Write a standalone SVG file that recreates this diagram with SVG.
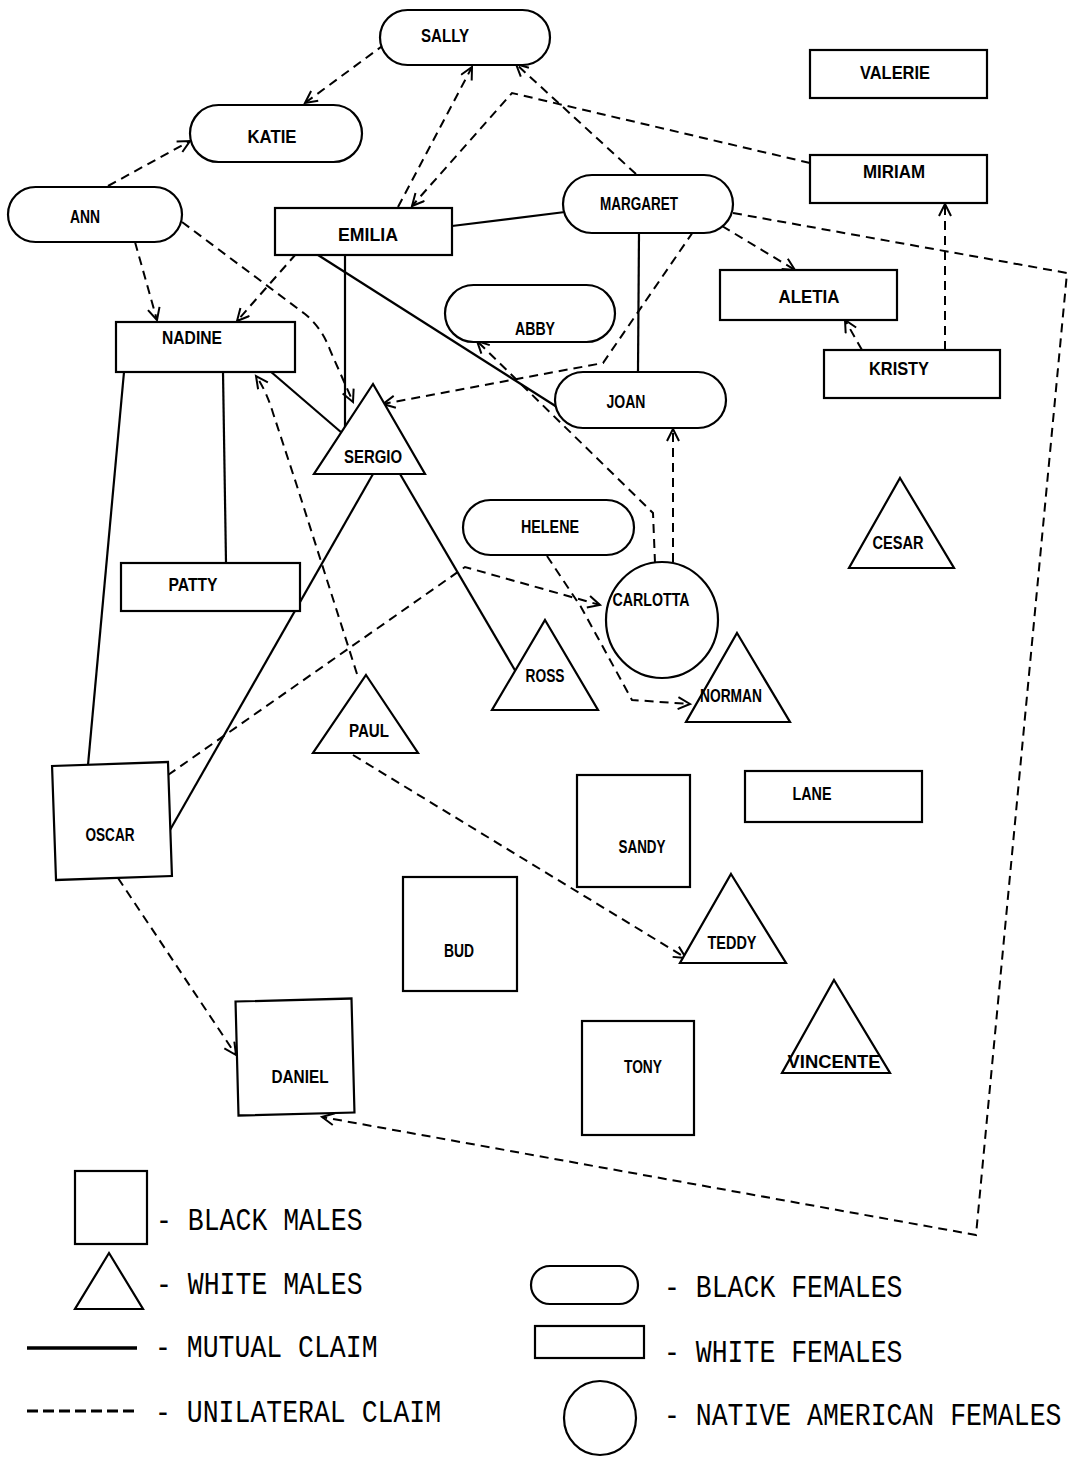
<svg xmlns="http://www.w3.org/2000/svg" width="1070" height="1457" viewBox="0 0 1070 1457">
<style>
.shape{fill:#fff;stroke:#000;stroke-width:2.2}
.lbl{font-family:"Liberation Sans",Arial,sans-serif;font-size:18px;font-weight:bold;text-anchor:middle;dominant-baseline:central;fill:#000}
.solid{fill:none;stroke:#000;stroke-width:2.2}
.dash{fill:none;stroke:#000;stroke-width:2;stroke-dasharray:9,6}
.leg{font-family:"Liberation Mono","Courier New",monospace;font-size:26.5px;fill:#000}
</style>
<defs>
<marker id="arr" markerUnits="userSpaceOnUse" markerWidth="16" markerHeight="16" refX="13" refY="7" orient="auto">
<path d="M1,1 L13,7 L1,13" fill="none" stroke="#000" stroke-width="2"/>
</marker>
</defs>
<rect width="1070" height="1457" fill="#fff"/>
<g id="connectors">
<path class="dash" d="M385,44 L305,103" marker-end="url(#arr)"/>
<path class="dash" d="M108,186 L190,141" marker-end="url(#arr)"/>
<path class="dash" d="M398,207 L472,67" marker-end="url(#arr)"/>
<path class="dash" d="M810,163 L512,93 L412,206" marker-end="url(#arr)"/>
<path class="dash" d="M636,174 L516,64" marker-end="url(#arr)"/>
<path class="dash" d="M296,254 L237,321" marker-end="url(#arr)"/>
<path class="dash" d="M135,242 L157,320" marker-end="url(#arr)"/>
<path class="dash" d="M182,222 L305,314 Q322,328 330,350 L353,402" marker-end="url(#arr)"/>
<path class="dash" d="M693,232 L603,363 L383,404" marker-end="url(#arr)"/>
<path class="dash" d="M722,226 L795,270" marker-end="url(#arr)"/>
<path class="dash" d="M733,213 L1067,273 L976,1235 L322,1117" marker-end="url(#arr)"/>
<path class="dash" d="M862,350 L845,320" marker-end="url(#arr)"/>
<path class="dash" d="M945,350 L945,204" marker-end="url(#arr)"/>
<path class="dash" d="M673,562 L673,429" marker-end="url(#arr)"/>
<path class="dash" d="M655,563 L653,513 L477,341" marker-end="url(#arr)"/>
<path class="dash" d="M547,556 L581,607 L632,700 L690,704" marker-end="url(#arr)"/>
<path class="dash" d="M357,674 L296,483 L273,413 Q266,390 256,376" marker-end="url(#arr)"/>
<path class="dash" d="M168,775 L465,567 L600,605" marker-end="url(#arr)"/>
<path class="dash" d="M353,755 L686,958" marker-end="url(#arr)"/>
<path class="dash" d="M118,878 L236,1055" marker-end="url(#arr)"/>
<path class="solid" d="M452,226 L565,212"/>
<path class="solid" d="M345,255 L345,432"/>
<path class="solid" d="M318,255 L557,407"/>
<path class="solid" d="M270,371 L342,433"/>
<path class="solid" d="M124,372 L88,765"/>
<path class="solid" d="M223,372 L226,563"/>
<path class="solid" d="M639,233 L638,372"/>
<path class="solid" d="M400,474 L516,672"/>
<path class="solid" d="M373,474 L170,830"/>
</g>
<g id="sally"><rect class="shape" x="380" y="10" width="170" height="55" rx="27.5"/><text class="lbl" x="445" y="36" textLength="48" lengthAdjust="spacingAndGlyphs">SALLY</text></g>
<g id="katie"><rect class="shape" x="190" y="105" width="172" height="57" rx="28.5"/><text class="lbl" x="272" y="137" textLength="49" lengthAdjust="spacingAndGlyphs">KATIE</text></g>
<g id="ann"><rect class="shape" x="8" y="187" width="174" height="55" rx="27.5"/><text class="lbl" x="85" y="217" textLength="30" lengthAdjust="spacingAndGlyphs">ANN</text></g>
<g id="emilia"><rect class="shape" x="275" y="208" width="177" height="47"/><text class="lbl" x="368" y="235" textLength="60" lengthAdjust="spacingAndGlyphs">EMILIA</text></g>
<g id="margaret"><rect class="shape" x="563" y="175" width="170" height="58" rx="29"/><text class="lbl" x="639" y="204" textLength="78" lengthAdjust="spacingAndGlyphs">MARGARET</text></g>
<g id="valerie"><rect class="shape" x="810" y="50" width="177" height="48"/><text class="lbl" x="895" y="73" textLength="70" lengthAdjust="spacingAndGlyphs">VALERIE</text></g>
<g id="miriam"><rect class="shape" x="810" y="155" width="177" height="48"/><text class="lbl" x="894" y="172" textLength="62" lengthAdjust="spacingAndGlyphs">MIRIAM</text></g>
<g id="nadine"><rect class="shape" x="116" y="322" width="179" height="50"/><text class="lbl" x="192" y="338" textLength="60" lengthAdjust="spacingAndGlyphs">NADINE</text></g>
<g id="abby"><rect class="shape" x="445" y="285" width="170" height="57" rx="28.5"/><text class="lbl" x="535" y="329" textLength="40" lengthAdjust="spacingAndGlyphs">ABBY</text></g>
<g id="aletia"><rect class="shape" x="720" y="270" width="177" height="50"/><text class="lbl" x="809" y="297" textLength="61" lengthAdjust="spacingAndGlyphs">ALETIA</text></g>
<g id="kristy"><rect class="shape" x="824" y="350" width="176" height="48"/><text class="lbl" x="899" y="369" textLength="60" lengthAdjust="spacingAndGlyphs">KRISTY</text></g>
<g id="joan"><rect class="shape" x="555" y="372" width="171" height="56" rx="28"/><text class="lbl" x="626" y="402" textLength="39" lengthAdjust="spacingAndGlyphs">JOAN</text></g>
<g id="sergio"><polygon class="shape" points="373,384 425,474 314,474"/><text class="lbl" x="373" y="457" textLength="58" lengthAdjust="spacingAndGlyphs">SERGIO</text></g>
<g id="helene"><rect class="shape" x="463" y="500" width="171" height="55" rx="27.5"/><text class="lbl" x="550" y="527" textLength="58" lengthAdjust="spacingAndGlyphs">HELENE</text></g>
<g id="cesar"><polygon class="shape" points="900,478 954,568 849,568"/><text class="lbl" x="898" y="543" textLength="51" lengthAdjust="spacingAndGlyphs">CESAR</text></g>
<g id="patty"><rect class="shape" x="121" y="563" width="179" height="48"/><text class="lbl" x="193" y="585" textLength="49" lengthAdjust="spacingAndGlyphs">PATTY</text></g>
<g id="carlotta"><ellipse class="shape" cx="662" cy="620" rx="56" ry="58"/><text class="lbl" x="651" y="600" textLength="77" lengthAdjust="spacingAndGlyphs">CARLOTTA</text></g>
<g id="ross"><polygon class="shape" points="545,620 598,710 492,710"/><text class="lbl" x="545" y="676" textLength="39" lengthAdjust="spacingAndGlyphs">ROSS</text></g>
<g id="norman"><polygon class="shape" points="737,633 790,722 686,722"/><text class="lbl" x="731" y="696" textLength="62" lengthAdjust="spacingAndGlyphs">NORMAN</text></g>
<g id="paul"><polygon class="shape" points="366,675 418,753 313,753"/><text class="lbl" x="369" y="731" textLength="40" lengthAdjust="spacingAndGlyphs">PAUL</text></g>
<g id="oscar"><rect class="shape" x="54" y="764" width="116" height="114" transform="rotate(-2 112 821)"/><text class="lbl" x="110" y="835" textLength="49" lengthAdjust="spacingAndGlyphs">OSCAR</text></g>
<g id="sandy"><rect class="shape" x="577" y="775" width="113" height="112"/><text class="lbl" x="642" y="847" textLength="47" lengthAdjust="spacingAndGlyphs">SANDY</text></g>
<g id="lane"><rect class="shape" x="745" y="771" width="177" height="51"/><text class="lbl" x="812" y="794" textLength="39" lengthAdjust="spacingAndGlyphs">LANE</text></g>
<g id="bud"><rect class="shape" x="403" y="877" width="114" height="114"/><text class="lbl" x="459" y="951" textLength="30" lengthAdjust="spacingAndGlyphs">BUD</text></g>
<g id="teddy"><polygon class="shape" points="731,874 786,963 680,963"/><text class="lbl" x="732" y="943" textLength="49" lengthAdjust="spacingAndGlyphs">TEDDY</text></g>
<g id="tony"><rect class="shape" x="582" y="1021" width="112" height="114"/><text class="lbl" x="643" y="1067" textLength="38" lengthAdjust="spacingAndGlyphs">TONY</text></g>
<g id="vincente"><polygon class="shape" points="834,980 890,1073 782,1073"/><text class="lbl" x="834" y="1062" textLength="93" lengthAdjust="spacingAndGlyphs">VINCENTE</text></g>
<g id="daniel"><rect class="shape" x="237" y="1000" width="116" height="114" transform="rotate(-1.5 295 1057)"/><text class="lbl" x="300" y="1077" textLength="57" lengthAdjust="spacingAndGlyphs">DANIEL</text></g>
<g id="legend">
<rect class="shape" x="75" y="1171" width="72" height="73"/>
<polygon class="shape" points="109,1253 143,1309 75,1309"/>
<line x1="27" y1="1348" x2="137" y2="1348" stroke="#000" stroke-width="3.5"/>
<line x1="27" y1="1411" x2="137" y2="1411" stroke="#000" stroke-width="3" stroke-dasharray="11,5"/>
<rect class="shape" x="531" y="1266" width="107" height="38" rx="19"/>
<rect class="shape" x="535" y="1326" width="109" height="32"/>
<ellipse class="shape" cx="600" cy="1418" rx="36" ry="37"/>
<text class="leg" transform="translate(156 1230) scale(1 1.15)">- BLACK MALES</text>
<text class="leg" transform="translate(156 1294) scale(1 1.15)">- WHITE MALES</text>
<text class="leg" transform="translate(155 1357) scale(1 1.15)">- MUTUAL CLAIM</text>
<text class="leg" transform="translate(155 1422) scale(1 1.15)">- UNILATERAL CLAIM</text>
<text class="leg" transform="translate(664 1297) scale(1 1.15)">- BLACK FEMALES</text>
<text class="leg" transform="translate(664 1362) scale(1 1.15)">- WHITE FEMALES</text>
<text class="leg" transform="translate(664 1425) scale(1 1.15)">- NATIVE AMERICAN FEMALES</text>
</g>
</svg>
